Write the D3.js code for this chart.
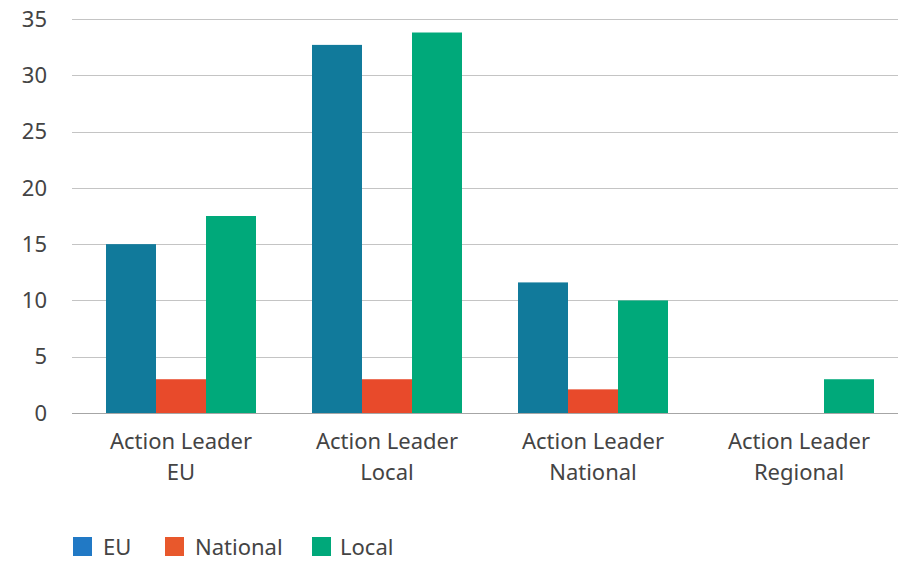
<!DOCTYPE html>
<html>
<head>
<meta charset="utf-8">
<script src="https://cdn.jsdelivr.net/npm/d3@7"></script>
<style>
  body { margin: 0; background: #fff; }
  text { font-family: "Noto Sans", "Open Sans", sans-serif; fill: #444; }
</style>
</head>
<body>
<div id="chart"></div>
<script>
const categories = [["Action Leader", "EU"], ["Action Leader", "Local"], ["Action Leader", "National"], ["Action Leader", "Regional"]];
const seriesNames = ["EU", "National", "Local"];
const euValues = [15, 32.7, 11.6, 0];
const nationalValues = [3, 3, 2.1, 0];
const localValues = [17.5, 33.8, 10, 3];
const yTicks = [0, 5, 10, 15, 20, 25, 30, 35];

const barColors = ["#117a9b", "#e84a2b", "#00a97a"];
const legendColors = ["#2179c5", "#e8582c", "#00a87a"];

const width = 898, height = 561;
const margin = { top: 19, right: 0, bottom: 148, left: 72 };
const plotBottom = height - margin.bottom;

const svg = d3.select('#chart').append('svg')
  .attr('width', width)
  .attr('height', height);

const x = d3.scaleBand()
  .domain(d3.range(categories.length))
  .range([78, 902])
  .paddingInner(0)
  .paddingOuter(0);

const y = d3.scaleLinear()
  .domain([0, 35])
  .range([plotBottom, margin.top]);

// gridlines
svg.append('g')
  .selectAll('line')
  .data(yTicks)
  .enter()
  .append('line')
  .attr('x1', margin.left)
  .attr('x2', width)
  .attr('y1', d => Math.round(y(d)) + 0.5)
  .attr('y2', d => Math.round(y(d)) + 0.5)
  .attr('stroke', d => d === 0 ? '#a6a6a6' : '#c4c4c4')
  .attr('stroke-width', 1.2);

// y axis labels
svg.append('g')
  .selectAll('text')
  .data(yTicks)
  .enter()
  .append('text')
  .attr('x', 47)
  .attr('y', d => y(d))
  .attr('dy', '0.35em')
  .attr('text-anchor', 'end')
  .style('font-size', '22px')
  .text(d => d);

// bars
const series = [euValues, nationalValues, localValues];
const barW = 50;
series.forEach((vals, i) => {
  svg.append('g')
    .selectAll('rect')
    .data(vals)
    .enter()
    .append('rect')
    .attr('x', (d, j) => x(j) + x.bandwidth() / 2 - 1.5 * barW + i * barW)
    .attr('y', d => y(d))
    .attr('width', barW)
    .attr('height', d => y(0) - y(d))
    .attr('fill', barColors[i]);
});

// category labels
const catG = svg.append('g');
categories.forEach((lines, j) => {
  const t = catG.append('text')
    .attr('x', x(j) + x.bandwidth() / 2)
    .attr('y', 449)
    .attr('text-anchor', 'middle')
    .style('font-size', '22px');
  lines.forEach((l, k) => {
    t.append('tspan')
      .attr('x', x(j) + x.bandwidth() / 2)
      .attr('dy', k === 0 ? 0 : 31)
      .text(l);
  });
});

// legend
const legendX = [73, 165, 312];
const legend = svg.append('g');
seriesNames.forEach((name, i) => {
  const row = legend.append('g')
    .attr('transform', `translate(${legendX[i]}, 537)`);
  row.append('rect')
    .attr('width', 19)
    .attr('height', 19)
    .attr('fill', legendColors[i]);
  row.append('text')
    .attr('x', i === 2 ? 28 : 30)
    .attr('y', 10)
    .attr('dy', '0.35em')
    .style('font-size', '22px')
    .text(name);
});
</script>
</body>
</html>
